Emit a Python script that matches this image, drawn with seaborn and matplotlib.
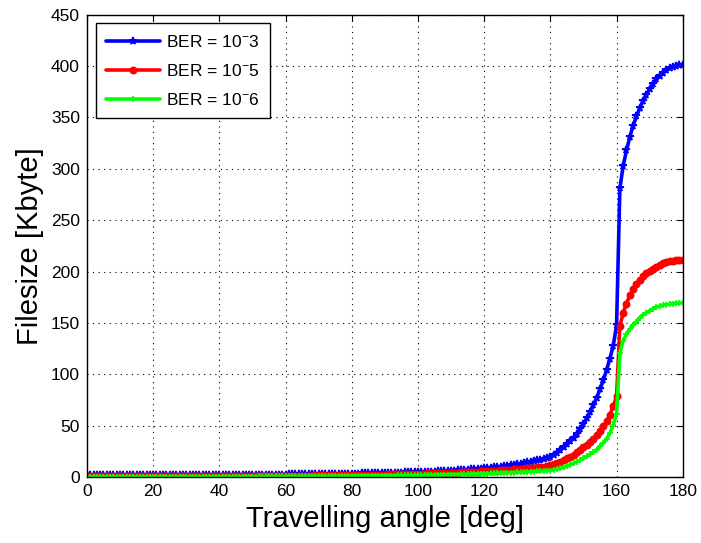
import matplotlib
matplotlib.use("Agg")
import matplotlib.pyplot as plt
import pandas as pd
import seaborn as sns

# travelling angle in degrees, one sample per degree
angle = list(range(0, 181))

ber_3 = [
    2.0, 2.0, 2.0, 2.0, 2.0, 2.0, 2.0, 2.0, 2.0, 2.0,
    2.0, 2.0, 2.0, 2.0, 2.1, 2.1, 2.1, 2.1, 2.1, 2.1,
    2.1, 2.1, 2.1, 2.1, 2.1, 2.2, 2.2, 2.2, 2.2, 2.2,
    2.2, 2.2, 2.2, 2.2, 2.3, 2.3, 2.3, 2.3, 2.3, 2.3,
    2.3, 2.4, 2.4, 2.4, 2.4, 2.4, 2.4, 2.5, 2.5, 2.5,
    2.5, 2.5, 2.6, 2.6, 2.6, 2.6, 2.6, 2.7, 2.7, 2.7,
    2.7, 2.8, 2.8, 2.8, 2.9, 2.9, 2.9, 3.0, 3.0, 3.0,
    3.1, 3.1, 3.1, 3.2, 3.2, 3.3, 3.3, 3.4, 3.4, 3.5,
    3.5, 3.6, 3.6, 3.7, 3.7, 3.8, 3.9, 3.9, 4.0, 4.1,
    4.1, 4.2, 4.3, 4.4, 4.5, 4.6, 4.7, 4.8, 4.9, 5.0,
    5.1, 5.2, 5.3, 5.4, 5.5, 5.6, 5.8, 5.9, 6.0, 6.2,
    6.4, 6.6, 6.8, 7.0, 7.2, 7.4, 7.6, 7.9, 8.1, 8.4,
    8.7, 9.0, 9.3, 9.6, 10.0, 10.4, 10.8, 11.2, 11.7, 12.2,
    12.7, 13.2, 13.8, 14.4, 15.0, 15.7, 16.4, 17.2, 18.0, 18.9,
    19.8, 21.8, 24.0, 26.4, 29.0, 32.0, 35.2, 38.7, 42.6, 46.9,
    51.6, 57.5, 63.5, 70.0, 77.5, 85.5, 94.5, 104.5, 115.5, 128.0,
    148.0, 281.0, 303.0, 318.0, 331.0, 342.0, 351.0, 359.0, 366.0, 372.0,
    378.0, 383.0, 387.0, 390.5, 393.5, 396.0, 398.0, 399.5, 400.5, 401.2,
    401.5,
]

ber_5 = [
    0.8, 0.8, 0.8, 0.8, 0.8, 0.8, 0.8, 0.8, 0.8, 0.8,
    0.8, 0.8, 0.8, 0.8, 0.8, 0.8, 0.9, 0.9, 0.9, 0.9,
    0.9, 0.9, 0.9, 0.9, 0.9, 0.9, 0.9, 0.9, 1.0, 1.0,
    1.0, 1.0, 1.0, 1.0, 1.0, 1.0, 1.0, 1.1, 1.1, 1.1,
    1.1, 1.1, 1.1, 1.1, 1.2, 1.2, 1.2, 1.2, 1.2, 1.2,
    1.3, 1.3, 1.3, 1.3, 1.3, 1.4, 1.4, 1.4, 1.4, 1.5,
    1.5, 1.5, 1.5, 1.6, 1.6, 1.6, 1.7, 1.7, 1.7, 1.8,
    1.8, 1.8, 1.9, 1.9, 2.0, 2.0, 2.0, 2.1, 2.1, 2.2,
    2.2, 2.3, 2.3, 2.4, 2.4, 2.5, 2.5, 2.6, 2.6, 2.7,
    2.7, 2.8, 2.9, 2.9, 3.0, 3.1, 3.1, 3.2, 3.3, 3.4,
    3.4, 3.5, 3.6, 3.7, 3.8, 3.9, 4.0, 4.1, 4.2, 4.3,
    4.4, 4.5, 4.6, 4.8, 4.9, 5.0, 5.2, 5.3, 5.5, 5.7,
    5.8, 6.0, 6.2, 6.4, 6.6, 6.8, 7.0, 7.2, 7.4, 7.6,
    7.9, 8.1, 8.4, 8.7, 9.0, 9.3, 9.7, 10.1, 10.5, 11.0,
    11.5, 12.6, 13.8, 15.2, 16.7, 18.3, 20.1, 22.0, 24.2, 26.5,
    29.0, 31.5, 34.5, 37.5, 41.0, 45.0, 49.5, 54.5, 61.0, 69.0,
    79.0, 147.0, 160.0, 169.0, 177.0, 183.0, 188.0, 192.0, 195.5, 198.5,
    201.0, 203.0, 205.0, 206.5, 208.0, 209.0, 210.0, 210.5, 211.0, 211.3,
    211.5,
]

ber_6 = [
    0.4, 0.4, 0.4, 0.4, 0.4, 0.4, 0.4, 0.4, 0.4, 0.4,
    0.4, 0.4, 0.4, 0.4, 0.4, 0.5, 0.5, 0.5, 0.5, 0.5,
    0.5, 0.5, 0.5, 0.5, 0.5, 0.5, 0.5, 0.5, 0.5, 0.5,
    0.5, 0.5, 0.6, 0.6, 0.6, 0.6, 0.6, 0.6, 0.6, 0.6,
    0.6, 0.6, 0.6, 0.7, 0.7, 0.7, 0.7, 0.7, 0.7, 0.7,
    0.7, 0.7, 0.8, 0.8, 0.8, 0.8, 0.8, 0.8, 0.8, 0.9,
    0.9, 0.9, 0.9, 0.9, 0.9, 1.0, 1.0, 1.0, 1.0, 1.0,
    1.1, 1.1, 1.1, 1.1, 1.1, 1.2, 1.2, 1.2, 1.2, 1.3,
    1.3, 1.3, 1.3, 1.4, 1.4, 1.4, 1.5, 1.5, 1.5, 1.6,
    1.6, 1.6, 1.7, 1.7, 1.8, 1.8, 1.8, 1.9, 1.9, 2.0,
    2.0, 2.1, 2.1, 2.2, 2.2, 2.3, 2.3, 2.4, 2.5, 2.5,
    2.6, 2.7, 2.7, 2.8, 2.9, 3.0, 3.1, 3.2, 3.3, 3.4,
    3.5, 3.6, 3.7, 3.8, 3.9, 4.0, 4.2, 4.3, 4.5, 4.6,
    4.8, 4.9, 5.1, 5.3, 5.5, 5.6, 5.8, 6.0, 6.2, 6.4,
    6.6, 7.2, 8.0, 8.9, 9.9, 11.0, 12.2, 13.6, 15.0, 16.7,
    18.5, 20.3, 22.2, 24.4, 27.0, 30.0, 33.5, 37.5, 43.0, 51.0,
    62.0, 121.0, 133.0, 139.0, 144.0, 148.0, 151.5, 155.0, 158.0, 160.0,
    162.0, 164.0, 165.5, 166.5, 167.5, 168.0, 168.5, 169.0, 169.3, 169.5,
    169.6,
]

series_labels = ["BER = 10$^{-}$3", "BER = 10$^{-}$5", "BER = 10$^{-}$6"]
series_colors = ["#0000ff", "#ff0000", "#00ff00"]
series_markers = ["*", "o", "+"]

sns.set_style("white")
plt.rcParams["font.family"] = ["Liberation Sans", "DejaVu Sans"]
plt.rcParams["mathtext.default"] = "regular"
plt.rcParams["text.color"] = "black"
plt.rcParams["axes.labelcolor"] = "black"

fig = plt.figure(figsize=(7.01, 5.43), dpi=100)
ax = fig.add_axes([0.124, 0.121, 0.850, 0.852])

msizes = [5.5, 4.5, 4]
for vals, lab, col, mk, ms in zip([ber_3, ber_5, ber_6], series_labels,
                                  series_colors, series_markers, msizes):
    df = pd.DataFrame({"angle": angle, "size": vals})
    sns.lineplot(data=df, x="angle", y="size", color=col, marker=mk,
                 markersize=ms, markeredgecolor=col, markeredgewidth=1.2,
                 linewidth=2.6, label=lab, ax=ax)

ax.set_xlim(0, 180)
ax.set_ylim(0, 450)
ax.set_xticks(range(0, 181, 20))
ax.set_yticks(range(0, 451, 50))
ax.grid(True, color="black", linestyle=(0, (1, 4)), linewidth=0.8)
ax.tick_params(direction="in", top=True, right=True, length=4,
               labelsize=12.5, colors="black", pad=5)
for sp in ax.spines.values():
    sp.set_color("black")
    sp.set_linewidth(1.0)

ax.set_xlabel("Travelling angle [deg]", fontsize=21, labelpad=4)
ax.set_ylabel("Filesize [Kbyte]", fontsize=21, labelpad=5)

leg = ax.legend(loc="upper left", bbox_to_anchor=(0.015, 0.981), fontsize=12.5,
                fancybox=False, framealpha=1, edgecolor="black",
                handlelength=3.1, borderpad=0.6, labelspacing=0.75,
                handletextpad=0.35, numpoints=1, borderaxespad=0)
leg.get_frame().set_linewidth(1.0)

fig.savefig("out.png", dpi=100)
